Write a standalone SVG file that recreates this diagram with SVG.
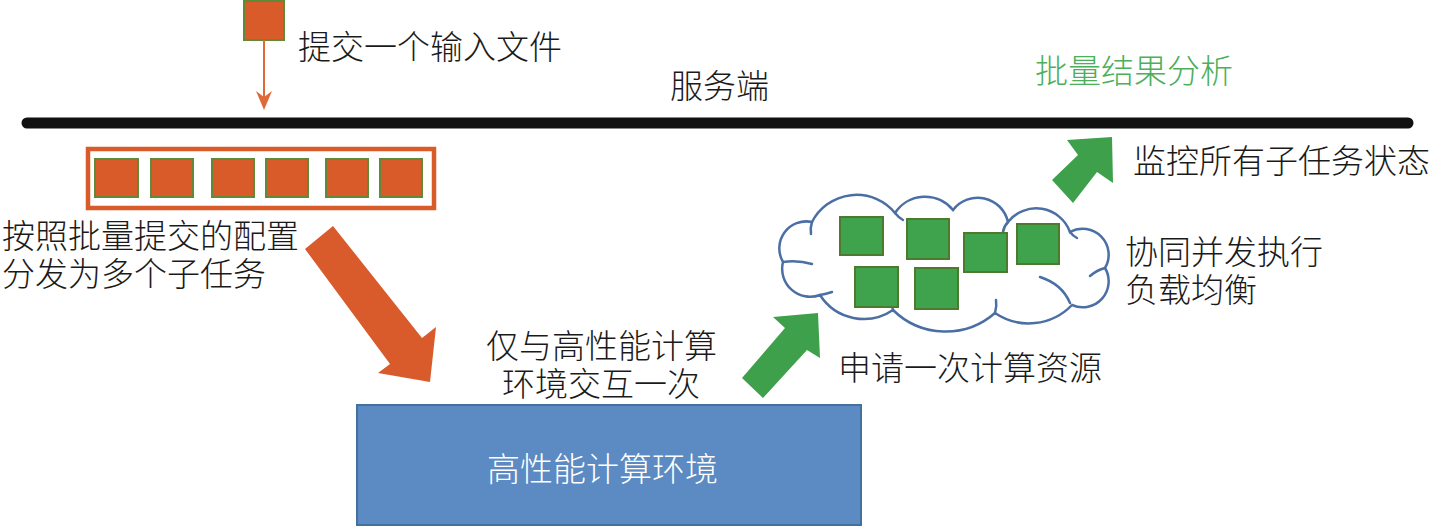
<svg xmlns="http://www.w3.org/2000/svg" width="1433" height="527" viewBox="0 0 1433 527">
<style>
  text { font-family: "Liberation Serif", "Noto Sans CJK SC", serif; font-size: 33px; font-weight: 300; fill: #1a1a1a; }
  .osq { fill: #D95B2A; stroke: #5E8A3A; stroke-width: 2; }
  .gsq { fill: #3FA24C; stroke: #4E7A2E; stroke-width: 2; }
  .cloud { fill: none; stroke: #4A6FA5; stroke-width: 2.5; stroke-linecap: round; }
  .garrow { fill: #3EA04B; }
  .oarrow { fill: #D95A2B; }
</style>
<rect width="1433" height="527" fill="#ffffff"/>

<g id="server-bar">
  <line x1="27" y1="123" x2="1408" y2="123" stroke="#111111" stroke-width="11" stroke-linecap="round"/>
  <text x="670" y="98">服务端</text>
</g>

<g id="input-file">
  <rect class="osq" x="244" y="1" width="40" height="39"/>
  <text x="298" y="59">提交一个输入文件</text>
</g>

<g id="batch-queue">
  <rect x="88" y="149" width="346" height="59" fill="#ffffff" stroke="#D95B2A" stroke-width="4.5"/>
  <rect class="osq" x="95" y="159" width="43" height="38"/>
  <rect class="osq" x="151" y="159" width="42" height="38"/>
  <rect class="osq" x="212" y="159" width="42" height="38"/>
  <rect class="osq" x="266" y="159" width="42" height="38"/>
  <rect class="osq" x="326" y="159" width="42" height="38"/>
  <rect class="osq" x="380" y="159" width="42" height="38"/>
  <text x="2" y="248">按照批量提交的配置</text>
  <text x="2" y="286">分发为多个子任务</text>
</g>

<g id="interaction-label">
  <text x="486" y="358">仅与高性能计算</text>
  <text x="502" y="396">环境交互一次</text>
</g>

<g id="hpc">
  <rect x="357" y="405" width="504" height="120" fill="#5B8BC2" stroke="#41719C" stroke-width="2"/>
  <text x="487" y="481" style="fill:#ffffff">高性能计算环境</text>
</g>

<g id="cloud-resources">
  <path class="cloud" d="M783,262 A27,27 0 0 1 812,222 A50,50 0 0 1 895,213 A36,36 0 0 1 953,210 A31,31 0 0 1 1008,222 A36,36 0 0 1 1070,232 A26,26 0 0 1 1105,268 A26,26 0 0 1 1072,305 A60,60 0 0 1 995,313 A75,75 0 0 1 893,310 A52,52 0 0 1 820,295 A28,28 0 0 1 783,262 Z"/>
  <path class="cloud" d="M783,262 Q798,260 812,264"/>
  <path class="cloud" d="M812,222 Q810,228 811,234"/>
  <path class="cloud" d="M895,213 Q899,218 903,220"/>
  <path class="cloud" d="M1008,222 Q1004,226 1003,232"/>
  <path class="cloud" d="M1070,232 Q1073,236 1077,238"/>
  <path class="cloud" d="M1105,268 Q1097,270 1090,276"/>
  <path class="cloud" d="M1040,277 Q1062,284 1070,303"/>
  <path class="cloud" d="M995,313 Q997,306 996,300"/>
  <path class="cloud" d="M893,310 Q892,304 887,300"/>
  <path class="cloud" d="M820,295 Q826,294 832,292"/>
  <rect class="gsq" x="840" y="217" width="43" height="38"/>
  <rect class="gsq" x="907" y="219" width="42" height="40"/>
  <rect class="gsq" x="964" y="233" width="43" height="39"/>
  <rect class="gsq" x="1017" y="224" width="42" height="40"/>
  <rect class="gsq" x="855" y="267" width="43" height="40"/>
  <rect class="gsq" x="915" y="268" width="43" height="41"/>
  <text x="1125" y="264">协同并发执行</text>
  <text x="1125" y="302">负载均衡</text>
</g>

<g id="request-label">
  <text x="838" y="380">申请一次计算资源</text>
</g>

<g id="monitor">
  <text x="1133" y="173">监控所有子任务状态</text>
</g>

<g id="analysis">
  <text x="1035" y="83" style="fill:#4CAF5A">批量结果分析</text>
</g>

<g id="connectors">
  <line x1="264" y1="40" x2="264" y2="98" stroke="#E0693A" stroke-width="2"/>
  <path d="M264,110 L256,91 L264,97 L272,91 Z" fill="#E0693A"/>
  <polygon class="oarrow" points="333,226 422,338 436,327 430,382 378,373 390,364 305,249"/>
  <polygon class="garrow" points="818,313 820,358 807,350 763,398 742,378 785,328 773,317"/>
  <polygon class="garrow" points="1112,137 1113,183 1097,172 1073,203 1052,180 1078,155 1067,140"/>
</g>
</svg>
